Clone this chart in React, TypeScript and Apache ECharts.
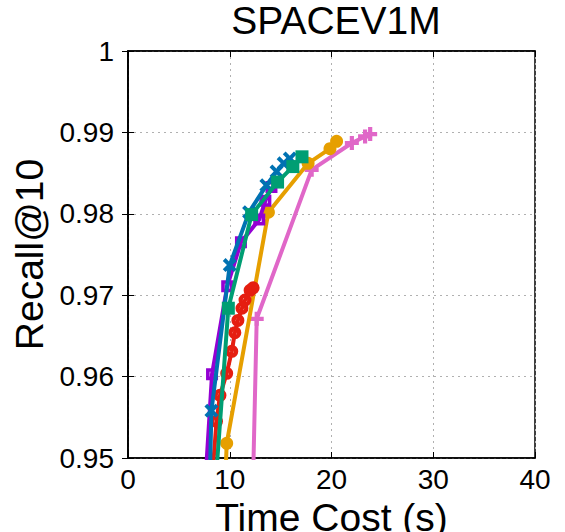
import React, { useEffect, useRef } from "react";
import * as echarts from "echarts";

const purpleData: number[][] = [[7.5, 0.945], [8.26, 0.9603], [9.75, 0.9711], [11.1, 0.9765], [12.9, 0.9793], [13.5, 0.9816], [14.1, 0.9833]];
const blueData: number[][] = [[8.0, 0.945], [8.2, 0.9558], [10.0, 0.9737], [11.9, 0.9802], [13.6, 0.9835], [14.6, 0.9852], [15.3, 0.9862], [15.9, 0.9868]];
const greenData: number[][] = [[8.5, 0.945], [9.86, 0.9684], [12.15, 0.9799], [14.7, 0.9839], [16.2, 0.9858], [17.1, 0.987]];
const redData: number[][] = [[8.3, 0.948], [8.7, 0.9545], [9.04, 0.9577], [9.7, 0.9604], [10.2, 0.9631], [10.5, 0.9654], [10.8, 0.9669], [11.2, 0.9684], [11.5, 0.9694], [12.0, 0.9706], [12.3, 0.9709]];
const orangeData: number[][] = [[9.5, 0.945], [9.7, 0.9518], [13.8, 0.9802], [17.7, 0.9862], [19.85, 0.988], [20.5, 0.9889]];
const pinkData: number[][] = [[12.25, 0.945], [12.65, 0.9671], [18.05, 0.9854], [22.0, 0.9887], [23.3, 0.9895], [23.8, 0.9898]];

const xTicks = [0, 10, 20, 30, 40];
const yTicks = [0.95, 0.96, 0.97, 0.98, 0.99, 1];

const CROSS = "path://M2,0 L5,3 L8,0 L10,2 L7,5 L10,8 L8,10 L5,7 L2,10 L0,8 L3,5 L0,2 Z";
const PLUS = "path://M3.5,0H6.5V3.5H10V6.5H6.5V10H3.5V6.5H0V3.5H3.5Z";
const RING = "path://M0,5 A5,5 0 1,0 10,5 A5,5 0 1,0 0,5 Z M3.3,5 A1.7,1.7 0 1,1 6.7,5 A1.7,1.7 0 1,1 3.3,5 Z";
const SQRING = "path://M0,0H10V10H0Z M3,3V7H7V3Z";

export default function App() {
  const ref = useRef<HTMLDivElement>(null);
  useEffect(() => {
    if (!ref.current) return;
    const chart = echarts.init(ref.current, undefined, { renderer: "svg" });
    const font = "Liberation Sans, Arial, Helvetica, sans-serif";
    const mk = (data: number[][], color: string, symbol: string, size: number, z: number) => ({
      type: "line",
      data,
      symbol,
      symbolSize: size,
      clip: true,
      lineStyle: { color, width: 4 },
      itemStyle: { color, borderWidth: 0 },
      z,
    });
    chart.setOption({
      animation: false,
      backgroundColor: "#fff",
      title: {
        text: "SPACEV1M",
        left: 331,
        top: -4,
        textAlign: "center",
        textStyle: { fontFamily: font, fontSize: 39, fontWeight: "normal", color: "#000" },
      },
      grid: {
        left: 128, right: 30, top: 51, bottom: 74,
        outerBoundsMode: "none",
        containLabel: false,
        show: true, borderColor: "#000", borderWidth: 1.5, backgroundColor: "transparent",
      },
      xAxis: [
        {
          type: "value",
          min: xTicks[0],
          max: xTicks[xTicks.length - 1],
          interval: 10,
          name: "Time Cost (s)",
          nameLocation: "middle",
          nameGap: 37,
          nameTextStyle: { fontFamily: font, fontSize: 39, color: "#000" },
          axisLine: { show: true, lineStyle: { color: "#000", width: 1.5 } },
          axisTick: { show: true, inside: true, length: 6, lineStyle: { color: "#000" } },
          axisLabel: { fontFamily: font, fontSize: 28, color: "#000", margin: 7 },
          splitLine: { show: true, lineStyle: { color: "#b0b0b0", type: [2, 4], width: 1 } },
        },
        {
          type: "value",
          position: "top",
          min: xTicks[0],
          max: xTicks[xTicks.length - 1],
          interval: 10,
          axisLine: { show: true, lineStyle: { color: "#000", width: 1.5 } },
          axisTick: { show: true, inside: true, length: 6, lineStyle: { color: "#000" } },
          axisLabel: { show: false },
          splitLine: { show: false },
        },
      ],
      yAxis: [
        {
          type: "value",
          min: yTicks[0],
          max: yTicks[yTicks.length - 1],
          interval: 0.01,
          name: "Recall@10",
          nameLocation: "middle",
          nameGap: 78,
          nameTextStyle: { fontFamily: font, fontSize: 39, color: "#000" },
          axisLine: { show: true, lineStyle: { color: "#000", width: 1.5 } },
          axisTick: { show: true, inside: true, length: 6, lineStyle: { color: "#000" } },
          axisLabel: {
            fontFamily: font,
            fontSize: 28,
            color: "#000",
            margin: 14,
            formatter: (v: number) => String(Math.round(v * 100) / 100),
          },
          splitLine: { show: true, lineStyle: { color: "#b0b0b0", type: [2, 4], width: 1 } },
        },
        {
          type: "value",
          position: "right",
          min: yTicks[0],
          max: yTicks[yTicks.length - 1],
          interval: 0.01,
          axisLine: { show: true, lineStyle: { color: "#000", width: 1.5 } },
          axisTick: { show: true, inside: true, length: 6, lineStyle: { color: "#000" } },
          axisLabel: { show: false },
          splitLine: { show: false },
        },
      ],
      series: [
        mk(pinkData, "#E067C8", PLUS, 14, 2),
        mk(orangeData, "#E69F00", "circle", 13, 3),
        mk(redData, "#E51E10", RING, 13, 4),
        mk(purpleData, "#9400D3", SQRING, 12, 5),
        mk(blueData, "#0072B2", CROSS, 14, 6),
        mk(greenData, "#009E73", "rect", 13, 7),
      ],
    });
    return () => chart.dispose();
  }, []);
  return <div ref={ref} style={{ width: 565, height: 532, position: "fixed", left: 0, top: 0 }} />;
}
